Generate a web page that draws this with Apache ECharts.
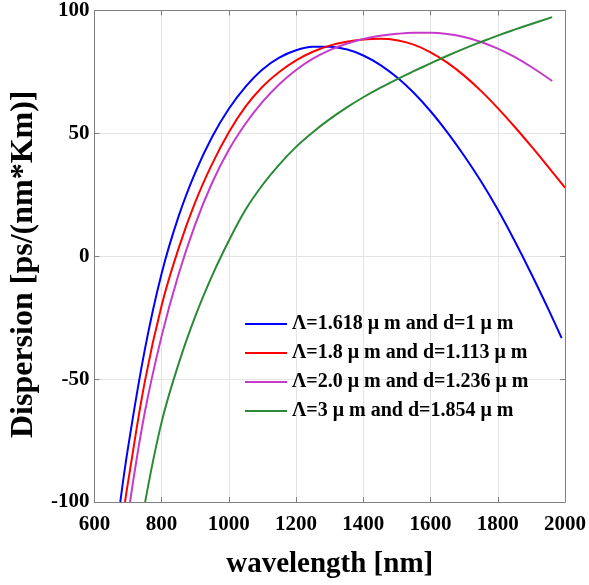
<!DOCTYPE html>
<html>
<head>
<meta charset="utf-8">
<script src="https://cdn.jsdelivr.net/npm/echarts@6/dist/echarts.min.js"></script>
<style>html,body{margin:0;padding:0;background:#fff}#c{width:589px;height:585px}</style>
</head>
<body>
<div id="c"></div>
<script>
const xTicks = [600, 800, 1000, 1200, 1400, 1600, 1800, 2000];
const yTicks = [-100, -50, 0, 50, 100];
const seriesNames = [
  'Λ=1.618 μ m and d=1 μ m',
  'Λ=1.8 μ m and d=1.113 μ m',
  'Λ=2.0 μ m and d=1.236 μ m',
  'Λ=3 μ m and d=1.854 μ m'
];
const wlA = [677, 700, 750, 800, 850, 900, 950, 1000, 1050, 1100, 1150, 1200, 1250, 1300, 1350, 1400, 1450, 1500, 1550, 1600, 1650, 1700, 1750, 1800, 1850, 1900, 1950, 1990];
const dA  = [-100, -78, -38, -7, 16, 34, 48.5, 60, 69, 76, 80.8, 83.8, 85.2, 85.3, 84.2, 81.7, 77.9, 72.8, 66.5, 59, 50.4, 40.9, 30.5, 19, 6.3, -7.2, -21.4, -33.3];
const wlB = [691, 700, 750, 800, 850, 900, 950, 1000, 1050, 1100, 1150, 1200, 1250, 1300, 1350, 1400, 1450, 1500, 1550, 1600, 1650, 1700, 1750, 1800, 1850, 1900, 1950, 2000];
const dB  = [-100, -92, -51, -20, 3, 22, 37.5, 50.5, 61, 69, 75, 79.7, 83.2, 85.7, 87.3, 88.2, 88.5, 87.9, 86.1, 83, 78.8, 73.5, 67.3, 60.3, 52.7, 44.7, 36.4, 27.9];
const wlC = [706, 750, 800, 850, 900, 950, 1000, 1050, 1100, 1150, 1200, 1250, 1300, 1350, 1400, 1450, 1500, 1550, 1600, 1650, 1700, 1750, 1800, 1850, 1900, 1962];
const dC  = [-100, -63.5, -32.5, -7.5, 13, 29.8, 43.3, 54, 62.8, 70, 75.8, 80.4, 83.9, 86.5, 88.4, 89.7, 90.5, 90.9, 90.9, 90.4, 89.2, 87.2, 84.5, 81.1, 77, 71.3];
const wlD = [751, 800, 850, 900, 950, 1000, 1050, 1100, 1150, 1200, 1250, 1300, 1350, 1400, 1450, 1500, 1550, 1600, 1650, 1700, 1750, 1800, 1850, 1900, 1962];
const dD  = [-100, -67.5, -44, -24.5, -8, 6.3, 19, 29, 37.3, 44.5, 50.5, 55.8, 60.5, 64.7, 68.5, 72, 75.3, 78.5, 81.6, 84.5, 87.2, 89.8, 92.2, 94.5, 97.3];
const colors = ['#0000ff', '#ff0000', '#c63acb', '#2a8a35'];

const pairs = (xs, ys) => xs.map((x, i) => [x, ys[i]]);
const allData = [pairs(wlA, dA), pairs(wlB, dB), pairs(wlC, dC), pairs(wlD, dD)];

const font = '"Liberation Serif", "Times New Roman", serif';
const chart = echarts.init(document.getElementById('c'));
chart.setOption({
  animation: false,
  grid: { left: 93, right: 23, top: 9, bottom: 83, containLabel: false },
  legend: {
    orient: 'vertical', left: 240, top: 309,
    itemWidth: 42, itemHeight: 2, itemGap: 9,
    textStyle: { fontFamily: font, fontWeight: 'bold', fontSize: 20, lineHeight: 20, color: '#000' },
    data: seriesNames.map(n => ({ name: n, icon: 'rect' }))
  },
  xAxis: [{
    type: 'value', min: 600, max: 2000, interval: 200,
    name: 'wavelength [nm]', nameLocation: 'middle', nameGap: 48,
    nameTextStyle: { fontFamily: font, fontWeight: 'bold', fontSize: 29, color: '#000' },
    axisLine: { show: true, onZero: false, lineStyle: { color: '#808080', width: 1 } },
    axisTick: { show: true, inside: true, length: 5, lineStyle: { color: '#808080' } },
    axisLabel: { fontFamily: font, fontWeight: 'bold', fontSize: 21, color: '#000', margin: 12,
      formatter: v => xTicks.includes(v) ? String(v) : '' },
    splitLine: { show: true, lineStyle: { color: '#e4e4e4', width: 1 } }
  }, {
    type: 'value', position: 'top', min: 600, max: 2000, interval: 200,
    axisLine: { show: true, onZero: false, lineStyle: { color: '#808080', width: 1 } },
    axisTick: { show: true, inside: true, length: 5, lineStyle: { color: '#808080' } },
    axisLabel: { show: false }, splitLine: { show: false }
  }],
  yAxis: [{
    type: 'value', min: -100, max: 100, interval: 50,
    name: 'Dispersion [ps/(nm*Km)]', nameLocation: 'middle', nameGap: 54, nameRotate: 90,
    nameTextStyle: { fontFamily: font, fontWeight: 'bold', fontSize: 32, color: '#000', padding: [0, 16, 0, 0] },
    axisLine: { show: true, onZero: false, lineStyle: { color: '#808080', width: 1 } },
    axisTick: { show: true, inside: true, length: 5, lineStyle: { color: '#808080' } },
    axisLabel: { fontFamily: font, fontWeight: 'bold', fontSize: 21, color: '#000', margin: 5,
      formatter: v => yTicks.includes(v) ? String(v) : '' },
    splitLine: { show: true, lineStyle: { color: '#e4e4e4', width: 1 } }
  }, {
    type: 'value', position: 'right', min: -100, max: 100, interval: 50,
    axisLine: { show: true, onZero: false, lineStyle: { color: '#808080', width: 1 } },
    axisTick: { show: true, inside: true, length: 5, lineStyle: { color: '#808080' } },
    axisLabel: { show: false }, splitLine: { show: false }
  }],
  series: allData.map((d, i) => ({
    name: seriesNames[i], type: 'line', data: d, smooth: 0.4,
    symbol: 'none', clip: true,
    lineStyle: { color: colors[i], width: 2 }, itemStyle: { color: colors[i] }
  }))
});
</script>
</body>
</html>
